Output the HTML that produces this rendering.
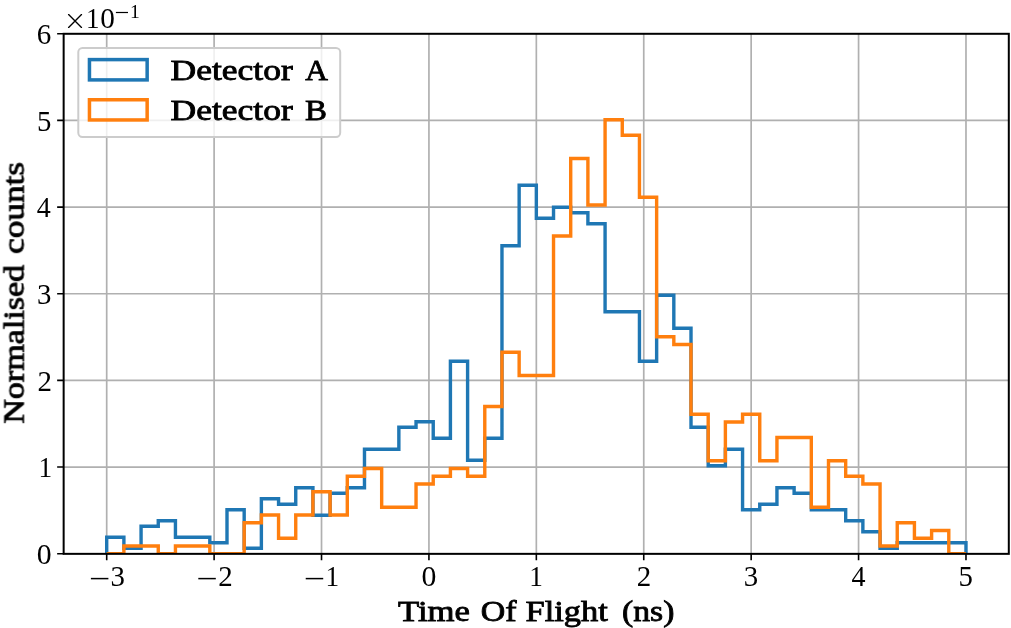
<!DOCTYPE html><html><head><meta charset="utf-8"><style>html,body{margin:0;padding:0;background:#fff;overflow:hidden;}svg{display:block;}text{font-family:"Liberation Serif",serif;}.t{filter:grayscale(1);}</style></head><body>
<svg width="1011" height="628" viewBox="0 0 1011 628">
<rect width="1011" height="628" fill="#fff"/>
<defs><clipPath id="ax"><rect x="63.74" y="33.76" width="945.21" height="519.96"/></clipPath></defs>
<g clip-path="url(#ax)">
<path d="M106.70,33.76 V553.72 M214.11,33.76 V553.72 M321.52,33.76 V553.72 M428.93,33.76 V553.72 M536.34,33.76 V553.72 M643.75,33.76 V553.72 M751.16,33.76 V553.72 M858.57,33.76 V553.72 M965.98,33.76 V553.72 M63.74,467.06 H1008.94 M63.74,380.40 H1008.94 M63.74,293.74 H1008.94 M63.74,207.08 H1008.94 M63.74,120.42 H1008.94" stroke="#b0b0b0" stroke-width="1.70" fill="none"/>
<path d="M106.70,553.72 L106.70,537.22 L123.89,537.22 L123.89,548.22 L141.07,548.22 L141.07,526.23 L158.26,526.23 L158.26,520.73 L175.44,520.73 L175.44,537.22 L192.63,537.22 L209.81,537.22 L209.81,542.72 L227.00,542.72 L227.00,509.73 L244.18,509.73 L244.18,548.22 L261.37,548.22 L261.37,498.73 L278.56,498.73 L278.56,504.23 L295.74,504.23 L295.74,487.74 L312.93,487.74 L312.93,515.23 L330.11,515.23 L330.11,493.23 L347.30,493.23 L347.30,487.74 L364.48,487.74 L364.48,449.24 L381.67,449.24 L398.86,449.24 L398.86,427.25 L416.04,427.25 L416.04,421.75 L433.23,421.75 L433.23,438.25 L450.41,438.25 L450.41,361.26 L467.60,361.26 L467.60,460.24 L484.78,460.24 L484.78,438.25 L501.97,438.25 L501.97,245.79 L519.15,245.79 L519.15,185.31 L536.34,185.31 L536.34,218.30 L553.53,218.30 L553.53,207.30 L570.71,207.30 L570.71,212.80 L587.90,212.80 L587.90,223.80 L605.08,223.80 L605.08,311.78 L622.27,311.78 L639.45,311.78 L639.45,361.26 L656.64,361.26 L656.64,295.28 L673.82,295.28 L673.82,328.27 L691.01,328.27 L691.01,427.25 L708.20,427.25 L708.20,465.74 L725.38,465.74 L725.38,449.24 L742.57,449.24 L742.57,509.73 L759.75,509.73 L759.75,504.23 L776.94,504.23 L776.94,487.74 L794.12,487.74 L794.12,493.23 L811.31,493.23 L811.31,509.73 L828.50,509.73 L845.68,509.73 L845.68,520.73 L862.87,520.73 L862.87,531.73 L880.05,531.73 L880.05,548.22 L897.24,548.22 L897.24,542.72 L914.42,542.72 L931.61,542.72 L948.79,542.72 L965.98,542.72 L965.98,553.72" stroke="#1f77b4" stroke-width="3.40" fill="none" stroke-linejoin="miter" stroke-linecap="butt"/>
<path d="M106.70,553.72 L123.89,553.72 L123.89,545.97 L141.07,545.97 L158.26,545.97 L158.26,553.72 L175.44,553.72 L175.44,545.97 L192.63,545.97 L209.81,545.97 L209.81,553.72 L227.00,553.72 L244.18,553.72 L244.18,522.73 L261.37,522.73 L261.37,514.98 L278.56,514.98 L278.56,538.22 L295.74,538.22 L295.74,514.98 L312.93,514.98 L312.93,491.73 L330.11,491.73 L330.11,514.98 L347.30,514.98 L347.30,476.23 L364.48,476.23 L364.48,468.49 L381.67,468.49 L381.67,507.23 L398.86,507.23 L416.04,507.23 L416.04,483.98 L433.23,483.98 L433.23,476.23 L450.41,476.23 L450.41,468.49 L467.60,468.49 L467.60,476.23 L484.78,476.23 L484.78,406.50 L501.97,406.50 L501.97,352.26 L519.15,352.26 L519.15,375.50 L536.34,375.50 L553.53,375.50 L553.53,236.03 L570.71,236.03 L570.71,158.54 L587.90,158.54 L587.90,205.03 L605.08,205.03 L605.08,119.80 L622.27,119.80 L622.27,135.30 L639.45,135.30 L639.45,197.29 L656.64,197.29 L656.64,336.76 L673.82,336.76 L673.82,344.51 L691.01,344.51 L691.01,414.25 L708.20,414.25 L708.20,460.74 L725.38,460.74 L725.38,421.99 L742.57,421.99 L742.57,414.25 L759.75,414.25 L759.75,460.74 L776.94,460.74 L776.94,437.49 L794.12,437.49 L811.31,437.49 L811.31,507.23 L828.50,507.23 L828.50,460.74 L845.68,460.74 L845.68,476.23 L862.87,476.23 L862.87,483.98 L880.05,483.98 L880.05,545.97 L897.24,545.97 L897.24,522.73 L914.42,522.73 L914.42,538.22 L931.61,538.22 L931.61,530.47 L948.79,530.47 L948.79,553.72 L965.98,553.72" stroke="#ff7f0e" stroke-width="3.40" fill="none" stroke-linejoin="miter" stroke-linecap="butt"/>
</g>
<g class="t">
<rect x="63.65" y="33.80" width="945.15" height="520.05" fill="none" stroke="#000" stroke-width="2.00" stroke-linejoin="miter"/>
<path d="M106.70,553.72 V560.32 M214.11,553.72 V560.32 M321.52,553.72 V560.32 M428.93,553.72 V560.32 M536.34,553.72 V560.32 M643.75,553.72 V560.32 M751.16,553.72 V560.32 M858.57,553.72 V560.32 M965.98,553.72 V560.32 M63.74,553.72 H57.14 M63.74,467.06 H57.14 M63.74,380.40 H57.14 M63.74,293.74 H57.14 M63.74,207.08 H57.14 M63.74,120.42 H57.14 M63.74,33.76 H57.14" stroke="#000" stroke-width="1.60" fill="none"/>
<rect x="90.90" y="577.85" width="17.50" height="1.5" fill="#000"/>
<text x="110.57" y="585.60" font-size="28.50" textLength="14.41" lengthAdjust="spacingAndGlyphs">3</text>
<rect x="198.31" y="577.85" width="17.50" height="1.5" fill="#000"/>
<text x="218.24" y="585.60" font-size="28.50" textLength="14.46" lengthAdjust="spacingAndGlyphs">2</text>
<rect x="305.72" y="577.85" width="17.50" height="1.5" fill="#000"/>
<text x="325.52" y="585.60" font-size="28.50" textLength="13.64" lengthAdjust="spacingAndGlyphs">1</text>
<text x="421.50" y="585.60" font-size="28.50" textLength="14.86" lengthAdjust="spacingAndGlyphs">0</text>
<text x="529.14" y="585.60" font-size="28.50" textLength="13.64" lengthAdjust="spacingAndGlyphs">1</text>
<text x="636.68" y="585.60" font-size="28.50" textLength="14.46" lengthAdjust="spacingAndGlyphs">2</text>
<text x="743.83" y="585.60" font-size="28.50" textLength="14.41" lengthAdjust="spacingAndGlyphs">3</text>
<text x="851.51" y="585.60" font-size="28.50" textLength="14.01" lengthAdjust="spacingAndGlyphs">4</text>
<text x="958.51" y="585.60" font-size="28.50" textLength="14.39" lengthAdjust="spacingAndGlyphs">5</text>
<text x="36.67" y="563.92" font-size="28.50" textLength="14.86" lengthAdjust="spacingAndGlyphs">0</text>
<text x="38.40" y="477.26" font-size="28.50" textLength="13.64" lengthAdjust="spacingAndGlyphs">1</text>
<text x="37.53" y="390.60" font-size="28.50" textLength="14.46" lengthAdjust="spacingAndGlyphs">2</text>
<text x="37.12" y="303.94" font-size="28.50" textLength="14.41" lengthAdjust="spacingAndGlyphs">3</text>
<text x="36.84" y="217.28" font-size="28.50" textLength="14.01" lengthAdjust="spacingAndGlyphs">4</text>
<text x="37.13" y="130.62" font-size="28.50" textLength="14.39" lengthAdjust="spacingAndGlyphs">5</text>
<text x="36.75" y="43.96" font-size="28.50" textLength="14.52" lengthAdjust="spacingAndGlyphs">6</text>
<path d="M68.6,14.6 L81.5,27.4 M81.5,14.6 L68.6,27.4" stroke="#000" stroke-width="1.35" stroke-linecap="round" fill="none"/>
<text x="85.92" y="28.10" font-size="28.50" textLength="13.49" lengthAdjust="spacingAndGlyphs">1</text>
<text x="100.19" y="28.40" font-size="28.50" textLength="14.62" lengthAdjust="spacingAndGlyphs">0</text>
<rect x="115.9" y="11.9" width="12.1" height="1.2" fill="#000"/>
<text x="129.97" y="18.20" font-size="18.60" textLength="9.80" lengthAdjust="spacingAndGlyphs">1</text>
<text x="397.98" y="620.80" font-size="28.50" stroke="#000" stroke-width="0.80" textLength="72.05" lengthAdjust="spacingAndGlyphs">Time</text>
<text x="480.71" y="620.80" font-size="28.50" stroke="#000" stroke-width="0.80" textLength="35.80" lengthAdjust="spacingAndGlyphs">Of</text>
<text x="525.60" y="620.80" font-size="28.50" stroke="#000" stroke-width="0.80" textLength="82.19" lengthAdjust="spacingAndGlyphs">Flight</text>
<text x="622.02" y="620.80" font-size="28.50" stroke="#000" stroke-width="0.80" textLength="52.37" lengthAdjust="spacingAndGlyphs">(ns)</text>
<g transform="translate(23.6,423.2) rotate(-90)">
<text x="-0.59" y="0.00" font-size="28.50" stroke="#000" stroke-width="0.80" textLength="158.88" lengthAdjust="spacingAndGlyphs">Normalised</text>
<text x="169.26" y="0.00" font-size="28.50" stroke="#000" stroke-width="0.80" textLength="92.10" lengthAdjust="spacingAndGlyphs">counts</text>
</g>
<rect x="78.3" y="47.9" width="261.9" height="89.0" rx="4.2" ry="4.2" fill="#fff" fill-opacity="0.8" stroke="#cccccc" stroke-width="2"/>
</g>
<rect x="89.45" y="59.6" width="57.7" height="20.3" fill="none" stroke="#1f77b4" stroke-width="3.5"/>
<rect x="89.45" y="99.75" width="57.7" height="20.2" fill="none" stroke="#ff7f0e" stroke-width="3.5"/>
<g class="t">
<text x="170.57" y="80.00" font-size="28.50" stroke="#000" stroke-width="0.80" textLength="122.26" lengthAdjust="spacingAndGlyphs">Detector</text>
<text x="305.19" y="80.00" font-size="28.50" stroke="#000" stroke-width="0.80" textLength="22.64" lengthAdjust="spacingAndGlyphs">A</text>
<text x="170.57" y="119.70" font-size="28.50" stroke="#000" stroke-width="0.80" textLength="122.26" lengthAdjust="spacingAndGlyphs">Detector</text>
<text x="304.94" y="119.70" font-size="28.50" stroke="#000" stroke-width="0.80" textLength="21.97" lengthAdjust="spacingAndGlyphs">B</text>
</g>
</svg></body></html>
